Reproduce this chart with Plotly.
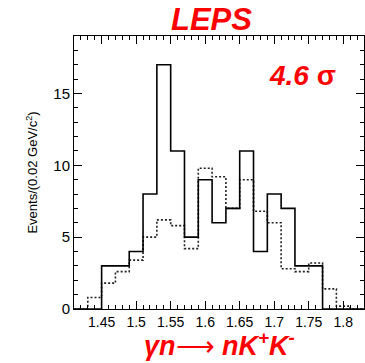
import plotly.graph_objects as go

# Invariant-mass histogram, 0.02 GeV/c^2 bins from 1.41 to 1.83
bin_low = [1.41, 1.43, 1.45, 1.47, 1.49, 1.51, 1.53, 1.55, 1.57, 1.59, 1.61,
           1.63, 1.65, 1.67, 1.69, 1.71, 1.73, 1.75, 1.77, 1.79, 1.81]
bin_width = 0.02
signal_counts = [0, 0, 3, 3, 4, 8, 17, 11, 5, 9, 6,
                 7, 11, 4, 8, 7, 3, 3, 0, 0, 0]
background_counts = [0, 0.8, 1.8, 2.6, 3.4, 5.0, 6.2, 5.8, 4.2, 9.8, 9.2,
                     7.0, 9.0, 6.8, 6.0, 2.8, 2.6, 3.2, 1.4, 0.2, 0]

x_tick_vals = [1.45, 1.5, 1.55, 1.6, 1.65, 1.7, 1.75, 1.8]
x_tick_text = ["1.45", "1.5", "1.55", "1.6", "1.65", "1.7", "1.75", "1.8"]
y_tick_vals = [0, 5, 10, 15]


def stairs(lows, counts, width):
    xs = list(lows) + [lows[-1] + width]
    ys = list(counts) + [counts[-1]]
    return xs, ys


fig = go.Figure()

bx, by = stairs(bin_low, background_counts, bin_width)
fig.add_trace(go.Scatter(x=bx, y=by, mode="lines", line_shape="hv",
                         line=dict(color="#222222", width=1.6, dash="2px,2px"),
                         hoverinfo="skip", showlegend=False))

sx, sy = stairs(bin_low, signal_counts, bin_width)
fig.add_trace(go.Scatter(x=sx, y=sy, mode="lines", line_shape="hv",
                         line=dict(color="black", width=1.6),
                         hoverinfo="skip", showlegend=False))

font_family = "Liberation Sans, Arial, sans-serif"
red = "#ff0000"

fig.update_layout(
    width=365, height=363,
    margin=dict(l=74, r=1, t=36, b=54),
    paper_bgcolor="white", plot_bgcolor="white",
    font=dict(family=font_family, color="black", size=14),
    xaxis=dict(range=[1.41, 1.83], tickvals=x_tick_vals, ticktext=x_tick_text,
               ticks="inside", ticklen=8, tickwidth=1, tickcolor="black",
               minor=dict(dtick=0.01, ticks="inside", ticklen=4, tickcolor="black"),
               showline=True, linecolor="black", linewidth=1, mirror="ticks",
               showgrid=False, zeroline=False, tickfont=dict(size=14)),
    yaxis=dict(range=[0, 19], tickvals=y_tick_vals,
               ticks="inside", ticklen=8, tickwidth=1, tickcolor="black",
               minor=dict(dtick=1, ticks="inside", ticklen=4, tickcolor="black"),
               showline=True, linecolor="black", linewidth=1, mirror="ticks",
               showgrid=False, zeroline=False, tickfont=dict(size=15),
               title=dict(text="Events/(0.02 GeV/c<sup>2</sup>)",
                          font=dict(size=13), standoff=12)),
    annotations=[
        dict(text="<b><i>LEPS</i></b>", xref="paper", yref="paper",
             x=0.475, y=1.0, yanchor="bottom", xanchor="center", yshift=-3,
             showarrow=False, font=dict(size=31, color=red, family=font_family)),
        dict(text="<b><i>4.6</i> σ</b>", xref="paper", yref="paper",
             x=0.912, y=0.855, xanchor="right", yanchor="middle",
             showarrow=False, font=dict(size=28, color=red, family=font_family)),
        dict(text="<b><i>γn</i></b>⟶ <b><i>nK<sup>+</sup>K<sup>-</sup></i></b>",
             xref="paper", yref="paper",
             x=0.5, y=0, yanchor="top", xanchor="center", yshift=-16,
             showarrow=False, font=dict(size=27, color=red, family=font_family)),
    ],
)

fig.write_html("out.html")
